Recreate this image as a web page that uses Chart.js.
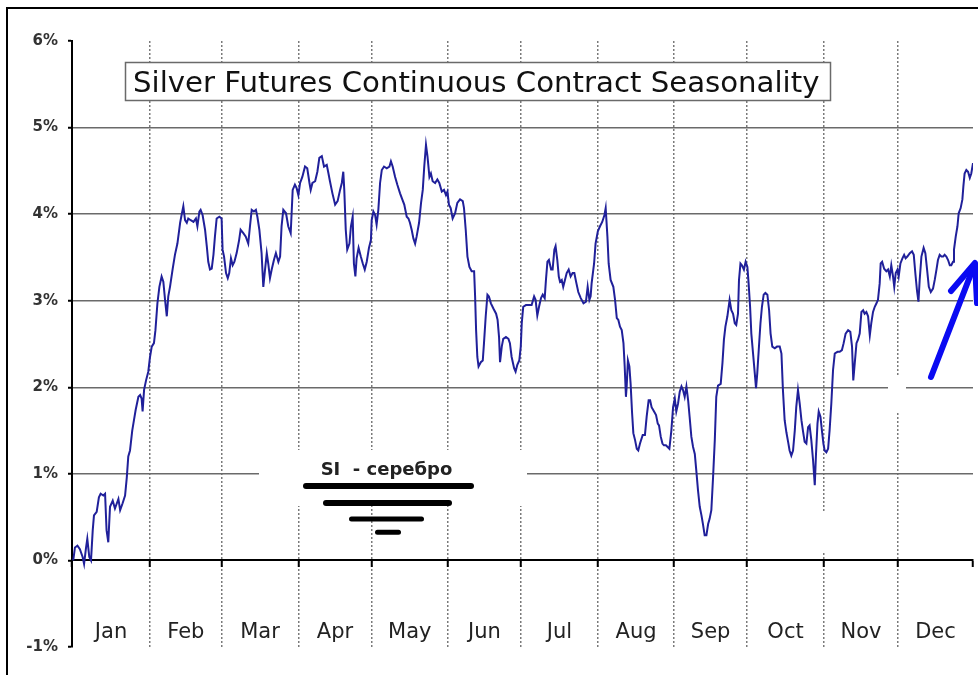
<!DOCTYPE html>
<html>
<head>
<meta charset="utf-8">
<script src="https://cdn.jsdelivr.net/npm/chart.js@4.4.1/dist/chart.umd.min.js"></script>
<style>
  html, body { margin: 0; padding: 0; background: #fff; }
  #wrap { width: 978px; height: 675px; position: relative; }
</style>
</head>
<body>
<div id="wrap"><canvas id="season" width="978" height="675"></canvas></div>
<script>
// Month names and the day-of-year where each month begins (last entry = year end)
const monthNames = ['Jan', 'Feb', 'Mar', 'Apr', 'May', 'Jun', 'Jul', 'Aug', 'Sep', 'Oct', 'Nov', 'Dec'];
const monthStarts = [0, 31.6, 60.6, 91.7, 121.4, 152.3, 181.9, 213.1, 243.9, 273.5, 304.6, 334.6, 365];

// Percent levels shown on the vertical axis
const yTickValues = [-1, 0, 1, 2, 3, 4, 5, 6];

// Average seasonal path: day of year and cumulative % change
const seasonDays = [
  0.5, 1.2, 2.2, 3.2, 4.3, 4.9, 5.7, 6.2, 7.0, 7.7, 8.4, 8.9, 10.0, 10.9, 11.6,
  12.7, 13.4, 14.0, 14.7, 15.4, 16.5, 17.4, 18.8, 19.5, 20.5, 21.5, 22.2, 22.8, 23.5, 24.4,
  25.1, 25.8, 26.9, 27.6, 28.2, 28.6, 29.2, 30.0, 30.9, 31.6, 32.3, 33.2, 33.8, 34.6, 35.4,
  36.3, 37.0, 37.7, 38.4, 39.0, 39.7, 40.8, 41.7, 42.7, 43.8, 44.4, 45.1, 45.8, 46.5, 47.1,
  48.1, 49.2, 50.2, 50.8, 51.6, 52.1, 52.9, 53.9, 54.6, 55.2, 55.9, 56.6, 57.3, 57.9, 58.6,
  59.7, 60.6, 61.0, 61.6, 62.4, 63.1, 63.7, 64.4, 65.1, 65.8, 66.7, 67.7, 68.3, 69.4, 70.4,
  71.4, 72.1, 72.8, 73.7, 74.5, 75.1, 75.9, 76.8, 77.5, 78.2, 78.9, 79.5, 80.2, 80.9, 81.8,
  82.6, 83.6, 84.3, 84.9, 85.6, 86.7, 87.6, 88.6, 89.4, 90.3, 91.0, 91.7, 92.4, 93.3, 94.4,
  95.3, 96.2, 96.7, 97.4, 98.5, 99.4, 100.2, 101.2, 102.1, 103.2, 103.9, 104.5, 105.5, 106.6, 107.6,
  108.6, 109.3, 109.9, 110.3, 110.9, 111.5, 112.4, 113.0, 113.7, 114.2, 114.8, 115.3, 116.1, 117.0, 117.8,
  118.6, 119.4, 120.3, 121.1, 121.4, 122.1, 122.8, 123.4, 124.1, 124.8, 125.5, 126.4, 127.5, 128.6, 129.2,
  129.9, 130.9, 131.8, 132.9, 133.8, 134.6, 135.6, 136.3, 136.9, 137.6, 138.3, 139.0, 139.6, 140.6, 141.4,
  142.1, 142.7, 143.4, 144.0, 144.8, 145.4, 146.1, 147.1, 148.0, 148.8, 149.8, 150.7, 151.5, 152.1, 152.7,
  153.4, 154.2, 155.2, 156.1, 157.2, 158.3, 158.8, 159.5, 160.2, 161.0, 161.9, 162.9, 163.3, 163.7, 164.2,
  164.7, 165.6, 166.4, 166.9, 167.6, 168.3, 168.9, 169.7, 170.7, 171.8, 172.4, 173.0, 173.4, 174.1, 174.7,
  175.8, 176.8, 177.4, 178.1, 179.1, 179.7, 180.4, 181.2, 181.8, 182.2, 182.8, 183.9, 185.3, 186.2, 187.2,
  187.8, 188.5, 189.2, 190.0, 190.7, 191.5, 192.0, 192.6, 193.2, 194.1, 194.7, 195.4, 195.9, 196.6, 197.2,
  197.7, 198.4, 199.0, 199.7, 200.4, 201.2, 202.0, 202.8, 203.5, 204.2, 205.1, 206.1, 207.2, 208.2, 208.9,
  209.6, 210.1, 210.5, 211.5, 212.1, 213.0, 213.9, 214.8, 215.7, 216.2, 216.9, 217.4, 218.2, 219.3, 220.0,
  220.7, 221.3, 222.0, 222.7, 223.4, 223.9, 224.4, 224.7, 225.2, 225.8, 226.3, 226.9, 227.4, 228.1, 228.8,
  229.4, 230.1, 231.2, 232.1, 232.8, 233.6, 234.2, 234.8, 235.8, 236.6, 237.3, 237.8, 238.5, 239.2, 239.8,
  240.6, 241.3, 242.0, 242.8, 243.5, 244.2, 244.8, 245.5, 246.2, 246.9, 247.5, 248.2, 248.9, 249.6, 250.2,
  250.9, 251.6, 252.3, 252.9, 253.6, 254.3, 255.0, 255.6, 256.3, 257.0, 257.7, 258.3, 259.0, 259.7, 260.4,
  261.0, 261.7, 262.8, 263.5, 264.1, 264.7, 265.5, 266.4, 267.1, 267.8, 268.5, 269.1, 269.8, 270.2, 270.8,
  271.4, 272.2, 272.9, 273.6, 274.1, 274.7, 275.2, 275.9, 276.6, 277.1, 277.6, 278.2, 278.9, 279.5, 280.2,
  280.9, 281.7, 282.4, 283.0, 283.7, 284.7, 285.6, 286.7, 287.4, 288.0, 288.7, 289.4, 290.1, 290.7, 291.4,
  292.1, 292.8, 293.4, 294.1, 294.8, 295.5, 296.1, 296.8, 297.5, 298.2, 298.8, 299.5, 300.2, 300.9, 301.4,
  302.0, 302.5, 303.2, 303.8, 304.4, 304.9, 305.6, 306.3, 306.9, 307.6, 308.3, 309.0, 310.1, 311.0, 311.9,
  312.6, 313.4, 314.4, 315.3, 316.0, 316.5, 317.1, 317.8, 318.4, 319.1, 319.8, 320.5, 321.1, 321.8, 322.5,
  323.2, 323.8, 324.5, 325.2, 325.9, 326.5, 327.2, 327.6, 328.2, 329.0, 329.9, 330.6, 331.3, 331.9, 332.6,
  333.1, 333.7, 334.4, 334.9, 335.6, 336.4, 337.1, 337.7, 338.4, 339.4, 340.3, 341.0, 341.7, 342.3, 342.9,
  343.4, 344.1, 345.0, 345.7, 346.4, 347.1, 347.9, 348.8, 349.5, 350.2, 350.8, 351.5, 352.2, 352.9, 353.5,
  354.2, 354.9, 355.6, 356.2, 356.9, 357.3, 358.0, 358.7, 359.2, 360.0, 360.7, 361.1, 361.6, 362.3, 363.0,
  363.7, 364.3, 365.0
];
const seasonPct = [
  0.00, 0.15, 0.17, 0.13, 0.04, -0.04, 0.15, 0.25, 0.04, 0.00, 0.35, 0.52, 0.56, 0.73, 0.77,
  0.75, 0.77, 0.35, 0.21, 0.62, 0.69, 0.60, 0.71, 0.58, 0.66, 0.75, 0.96, 1.20, 1.27, 1.50,
  1.62, 1.74, 1.89, 1.91, 1.87, 1.72, 1.97, 2.08, 2.18, 2.35, 2.47, 2.51, 2.66, 2.97, 3.16,
  3.28, 3.22, 3.01, 2.82, 3.05, 3.16, 3.37, 3.53, 3.66, 3.90, 3.99, 4.09, 3.93, 3.90, 3.95,
  3.93, 3.91, 3.95, 3.86, 4.03, 4.05, 3.99, 3.82, 3.63, 3.45, 3.36, 3.37, 3.53, 3.74, 3.95,
  3.97, 3.95, 3.59, 3.51, 3.32, 3.26, 3.32, 3.49, 3.41, 3.45, 3.55, 3.70, 3.82, 3.78, 3.74,
  3.66, 3.86, 4.05, 4.03, 4.05, 3.97, 3.82, 3.55, 3.16, 3.36, 3.55, 3.43, 3.26, 3.36, 3.47,
  3.55, 3.45, 3.51, 3.86, 4.05, 4.01, 3.86, 3.78, 4.28, 4.34, 4.30, 4.22, 4.36, 4.43, 4.55,
  4.53, 4.36, 4.28, 4.36, 4.38, 4.49, 4.65, 4.67, 4.55, 4.57, 4.47, 4.38, 4.24, 4.11, 4.15,
  4.28, 4.36, 4.49, 4.28, 3.82, 3.59, 3.66, 3.86, 3.97, 3.43, 3.28, 3.49, 3.61, 3.51, 3.43,
  3.36, 3.45, 3.61, 3.70, 3.93, 4.03, 3.99, 3.88, 4.05, 4.36, 4.51, 4.55, 4.53, 4.55, 4.61,
  4.55, 4.43, 4.34, 4.24, 4.17, 4.11, 3.97, 3.95, 3.90, 3.82, 3.72, 3.66, 3.74, 3.90, 4.13,
  4.28, 4.55, 4.80, 4.67, 4.43, 4.47, 4.38, 4.36, 4.40, 4.36, 4.26, 4.28, 4.22, 4.26, 4.11,
  4.07, 3.95, 4.01, 4.13, 4.17, 4.15, 4.07, 3.82, 3.51, 3.39, 3.34, 3.34, 3.05, 2.66, 2.35,
  2.24, 2.29, 2.31, 2.51, 2.82, 3.07, 3.05, 2.97, 2.91, 2.85, 2.78, 2.58, 2.29, 2.47, 2.56,
  2.58, 2.56, 2.51, 2.35, 2.22, 2.18, 2.26, 2.31, 2.47, 2.74, 2.93, 2.95, 2.95, 2.95, 3.05,
  3.01, 2.83, 2.93, 3.03, 3.07, 3.03, 3.24, 3.45, 3.47, 3.36, 3.36, 3.59, 3.63, 3.47, 3.28,
  3.22, 3.24, 3.16, 3.24, 3.32, 3.36, 3.28, 3.32, 3.32, 3.22, 3.10, 3.03, 2.97, 2.99, 3.16,
  3.01, 3.05, 3.20, 3.43, 3.66, 3.80, 3.86, 3.91, 3.99, 4.07, 3.74, 3.43, 3.24, 3.16, 3.01,
  2.80, 2.78, 2.70, 2.66, 2.51, 2.24, 1.89, 2.01, 2.31, 2.24, 2.04, 1.70, 1.47, 1.39, 1.29,
  1.27, 1.35, 1.45, 1.45, 1.66, 1.85, 1.85, 1.77, 1.72, 1.68, 1.58, 1.56, 1.43, 1.35, 1.33,
  1.33, 1.31, 1.29, 1.50, 1.77, 1.87, 1.72, 1.81, 1.95, 2.01, 1.97, 1.89, 2.01, 1.85, 1.66,
  1.43, 1.31, 1.23, 1.04, 0.81, 0.62, 0.52, 0.42, 0.29, 0.29, 0.42, 0.48, 0.58, 0.96, 1.39,
  1.89, 2.02, 2.04, 2.28, 2.55, 2.70, 2.82, 3.01, 2.89, 2.85, 2.74, 2.72, 2.85, 3.24, 3.43,
  3.41, 3.36, 3.45, 3.39, 3.20, 2.93, 2.62, 2.39, 2.16, 1.99, 2.16, 2.43, 2.74, 2.93, 3.07,
  3.09, 3.07, 2.89, 2.62, 2.47, 2.45, 2.47, 2.47, 2.39, 1.97, 1.62, 1.48, 1.37, 1.27, 1.21,
  1.27, 1.50, 1.77, 1.97, 1.81, 1.62, 1.50, 1.37, 1.35, 1.54, 1.56, 1.39, 1.16, 0.87, 1.23,
  1.58, 1.72, 1.66, 1.50, 1.35, 1.27, 1.25, 1.29, 1.50, 1.81, 2.20, 2.39, 2.41, 2.41, 2.43,
  2.51, 2.62, 2.66, 2.64, 2.47, 2.08, 2.28, 2.51, 2.55, 2.62, 2.87, 2.89, 2.85, 2.87, 2.82,
  2.60, 2.74, 2.87, 2.93, 2.97, 3.01, 3.20, 3.43, 3.45, 3.37, 3.34, 3.36, 3.28, 3.41, 3.28,
  3.16, 3.32, 3.36, 3.28, 3.43, 3.49, 3.53, 3.49, 3.51, 3.55, 3.57, 3.53, 3.30, 3.12, 2.99,
  3.24, 3.51, 3.61, 3.55, 3.36, 3.16, 3.10, 3.14, 3.24, 3.36, 3.47, 3.53, 3.51, 3.51, 3.53,
  3.51, 3.47, 3.41, 3.41, 3.45, 3.59, 3.74, 3.86, 4.01, 4.07, 4.17, 4.32, 4.47, 4.51, 4.49,
  4.42, 4.47, 4.59
];

const chartTitle = 'Silver Futures Continuous Contract Seasonality';
const noteText = 'SI  - серебро';

// Label positions: middle of each month
const monthMids = monthNames.map((m, i) => (monthStarts[i] + monthStarts[i + 1]) / 2);
const CLEAR = 'rgba(0,0,0,0)';

// Frame, title box, erased areas and the hand-drawn note and arrow
const decorations = {
  id: 'decorations',
  beforeDraw(chart) {
    const ctx = chart.ctx;
    ctx.save();
    ctx.fillStyle = '#fff';
    ctx.fillRect(0, 0, chart.width, chart.height);
    ctx.fillStyle = '#000';
    ctx.fillRect(6, 7, chart.width - 6, 2);
    ctx.fillRect(6, 7, 2, chart.height - 7);
    ctx.restore();
  },
  beforeDatasetsDraw(chart) {
    const ctx = chart.ctx;
    ctx.save();
    // erased patches over the grid
    ctx.fillStyle = '#fff';
    ctx.fillRect(259, 450, 268, 56);
    ctx.fillRect(888, 377, 18, 36);
    ctx.fillRect(818, 513, 14, 39);
    // title box
    ctx.fillRect(125.5, 62.5, 705, 38);
    ctx.strokeStyle = '#6a6a6a';
    ctx.lineWidth = 1.5;
    ctx.strokeRect(125.5, 62.5, 705, 38);
    ctx.fillStyle = '#111';
    ctx.font = '29.2px "DejaVu Sans"';
    ctx.textBaseline = 'alphabetic';
    ctx.textAlign = 'left';
    ctx.fillText(chartTitle, 133, 92);
    ctx.restore();
  },
  afterDatasetsDraw(chart) {
    const ctx = chart.ctx;
    ctx.save();
    // note with stacked bars
    ctx.fillStyle = '#222';
    ctx.font = 'bold 18px "DejaVu Sans"';
    ctx.textAlign = 'center';
    ctx.textBaseline = 'alphabetic';
    ctx.fillText(noteText, 386.5, 475);
    ctx.strokeStyle = '#000';
    ctx.lineCap = 'round';
    [[306, 471, 486, 6], [326, 449, 503, 6], [351.5, 421.5, 519, 5], [377.5, 398.5, 532.3, 5]]
      .forEach(([x1, x2, y, w]) => {
        ctx.lineWidth = w;
        ctx.beginPath();
        ctx.moveTo(x1, y);
        ctx.lineTo(x2, y);
        ctx.stroke();
      });
    // blue arrow
    ctx.strokeStyle = '#0a0af2';
    ctx.lineWidth = 6;
    ctx.lineCap = 'round';
    ctx.lineJoin = 'round';
    ctx.beginPath();
    ctx.moveTo(931, 377);
    ctx.lineTo(974, 266);
    ctx.stroke();
    ctx.beginPath();
    ctx.moveTo(951, 291);
    ctx.lineTo(975, 263);
    ctx.lineTo(977, 303);
    ctx.stroke();
    ctx.restore();
  }
};

new Chart(document.getElementById('season'), {
  type: 'line',
  data: {
    datasets: [{
      data: seasonDays.map((d, i) => ({ x: d, y: seasonPct[i] })),
      borderColor: '#20209a',
      borderWidth: 2,
      pointRadius: 0,
      tension: 0,
      fill: false
    }]
  },
  options: {
    responsive: false,
    animation: false,
    devicePixelRatio: 1,
    layout: { padding: { left: 0, top: 41, right: 5, bottom: 28 } },
    plugins: { legend: { display: false }, title: { display: false }, tooltip: { enabled: false } },
    scales: {
      x: {
        type: 'linear',
        min: 0,
        max: 365,
        position: { y: 0 },
        afterBuildTicks(scale) {
          scale.ticks = monthStarts.map(v => ({ value: v })).concat(monthMids.map(v => ({ value: v })));
        },
        // month labels sit well below the zero line; keep them from reserving side space
        afterFit(scale) {
          scale.paddingLeft = 0;
          scale.paddingRight = 0;
        },
        ticks: {
          autoSkip: false,
          maxRotation: 0,
          minRotation: 0,
          padding: 54,
          color: '#222',
          font: { family: 'DejaVu Sans', size: 21 },
          callback: (v, i) => (i >= monthStarts.length ? monthNames[i - monthStarts.length] : '')
        },
        grid: {
          color: c => (c.index > 0 && c.index < monthStarts.length - 1 ? '#7a7a7a' : CLEAR),
          lineWidth: 1.5,
          drawTicks: true,
          tickLength: 6,
          tickWidth: 2,
          tickColor: c => (c.index < monthStarts.length ? '#000' : CLEAR)
        },
        border: { display: true, color: '#000', width: 2, dash: [2, 2] }
      },
      y: {
        min: -1,
        max: 6,
        afterBuildTicks(scale) {
          scale.ticks = yTickValues.map(v => ({ value: v }));
        },
        afterFit(scale) { scale.width = 72; },
        ticks: {
          padding: 10,
          color: '#333',
          font: { family: 'DejaVu Sans', size: 15, weight: 'bold' },
          callback: v => v + '%'
        },
        grid: {
          color: c => (c.tick && c.tick.value > 0 && c.tick.value < 6 ? '#6a6a6a' : CLEAR),
          lineWidth: 1.5,
          drawTicks: true,
          tickLength: 4,
          tickWidth: 2,
          tickColor: '#000'
        },
        border: { display: true, color: '#000', width: 2 }
      }
    }
  },
  plugins: [decorations]
});
</script>
</body>
</html>
